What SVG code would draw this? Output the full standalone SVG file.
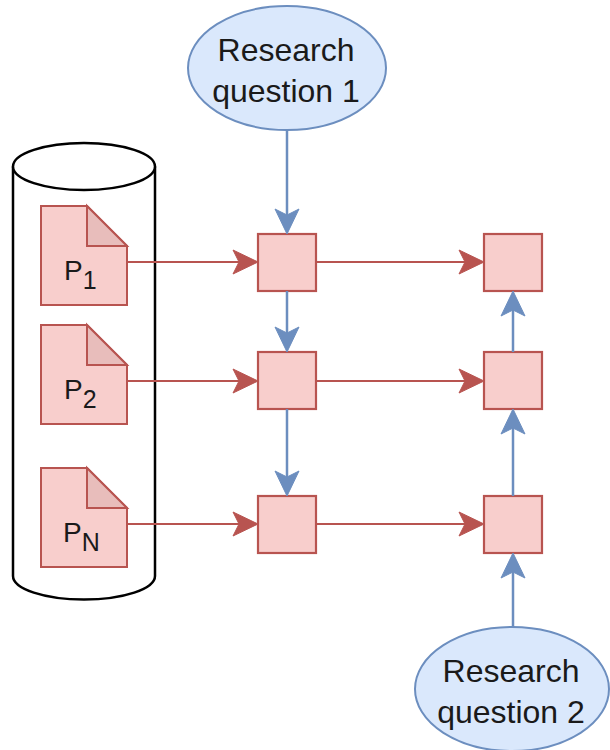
<svg xmlns="http://www.w3.org/2000/svg" width="610" height="750" viewBox="0 0 610 750">
  <defs>
    <style>
      .doc { fill: #f8cecc; stroke: #b85450; stroke-width: 2; }
      .fold { fill: #e8bdbb; stroke: #b85450; stroke-width: 2; stroke-linejoin: miter; }
      .box { fill: #f8cecc; stroke: #b85450; stroke-width: 2.2; }
      .q { fill: #dae8fc; stroke: #6c8ebf; stroke-width: 2; }
      .db { fill: #ffffff; stroke: #000000; stroke-width: 2.5; }
      .red { stroke: #b85450; stroke-width: 2; fill: none; marker-end: url(#arrRed); }
      .blue { stroke: #6c8ebf; stroke-width: 2.5; fill: none; marker-end: url(#arrBlue); }
      .lbl { font-family: "Liberation Sans", Arial, sans-serif; font-size: 32px; fill: #1a1a1a; text-anchor: middle; }
      .pl { font-family: "Liberation Sans", Arial, sans-serif; font-size: 28px; fill: #1a1a1a; }
      .sub { font-size: 25px; }
    </style>
    <marker id="arrRed" markerUnits="userSpaceOnUse" viewBox="-26 -13 27 26" markerWidth="27" markerHeight="26" refX="-10" refY="0" orient="auto">
      <path d="M0,0 L-25,-12 L-19,0 L-25,12 Z" fill="#b85450" stroke="#b85450" stroke-width="1"/>
    </marker>
    <marker id="arrBlue" markerUnits="userSpaceOnUse" viewBox="-26 -13 27 26" markerWidth="27" markerHeight="26" refX="-10" refY="0" orient="auto">
      <path d="M0,0 L-25,-12 L-19,0 L-25,12 Z" fill="#6c8ebf" stroke="#6c8ebf" stroke-width="1"/>
    </marker>
  </defs>

  <rect width="610" height="750" fill="#ffffff"/>

  <!-- paper store (cylinder) -->
  <g id="store">
    <path class="db" d="M13,166.5 L13,576 A71,23.5 0 0 0 155,576 L155,166.5"/>
    <ellipse class="db" cx="84" cy="166.5" rx="71" ry="23.5"/>
  </g>

  <!-- papers -->
  <g id="paper1">
    <path class="doc" d="M41,206 L87,206 L127,246 L127,305 L41,305 Z"/>
    <path class="fold" d="M87,206 L87,246 L127,246 Z"/>
    <text class="pl" x="64" y="280">P<tspan class="sub" dy="9">1</tspan></text>
  </g>
  <g id="paper2">
    <path class="doc" d="M41,325 L87,325 L127,365 L127,424 L41,424 Z"/>
    <path class="fold" d="M87,325 L87,365 L127,365 Z"/>
    <text class="pl" x="64" y="399">P<tspan class="sub" dy="9">2</tspan></text>
  </g>
  <g id="paperN">
    <path class="doc" d="M41,468 L87,468 L127,508 L127,567 L41,567 Z"/>
    <path class="fold" d="M87,468 L87,508 L127,508 Z"/>
    <text class="pl" x="63" y="542">P<tspan class="sub" dy="9">N</tspan></text>
  </g>

  <!-- research questions -->
  <g id="rq1">
    <ellipse class="q" cx="287" cy="68" rx="99" ry="62"/>
    <text class="lbl" x="286" y="61">Research</text>
    <text class="lbl" x="286" y="102">question 1</text>
  </g>
  <g id="rq2">
    <ellipse class="q" cx="512" cy="689" rx="97" ry="62"/>
    <text class="lbl" x="511" y="682">Research</text>
    <text class="lbl" x="511" y="723">question 2</text>
  </g>

  <!-- processing steps -->
  <g id="a1"><rect class="box" x="258" y="234" width="58" height="57"/></g>
  <g id="a2"><rect class="box" x="258" y="352" width="58" height="57"/></g>
  <g id="a3"><rect class="box" x="258" y="496" width="58" height="57"/></g>
  <g id="b1"><rect class="box" x="484" y="234" width="58" height="57"/></g>
  <g id="b2"><rect class="box" x="484" y="352" width="58" height="57"/></g>
  <g id="b3"><rect class="box" x="484" y="496" width="58" height="57"/></g>

  <!-- connectors -->
  <g id="connectors">
    <line class="red" x1="127" y1="262" x2="248" y2="262"/>
    <line class="red" x1="127" y1="381" x2="248" y2="381"/>
    <line class="red" x1="127" y1="524" x2="248" y2="524"/>
    <line class="red" x1="316" y1="262" x2="474" y2="262"/>
    <line class="red" x1="316" y1="381" x2="474" y2="381"/>
    <line class="red" x1="316" y1="524" x2="474" y2="524"/>
    <line class="blue" x1="287" y1="130" x2="287" y2="224"/>
    <line class="blue" x1="287" y1="291" x2="287" y2="342"/>
    <line class="blue" x1="287" y1="409" x2="287" y2="486"/>
    <line class="blue" x1="513" y1="496" x2="513" y2="419"/>
    <line class="blue" x1="513" y1="352" x2="513" y2="301"/>
    <line class="blue" x1="513" y1="627" x2="513" y2="563"/>
  </g>
</svg>
